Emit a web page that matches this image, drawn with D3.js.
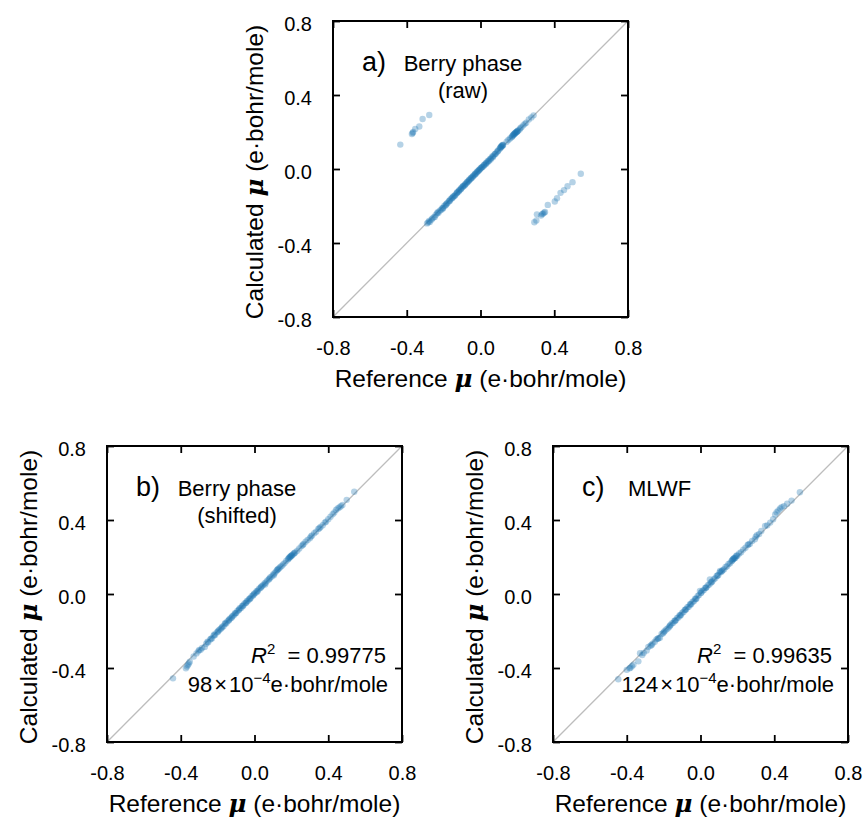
<!DOCTYPE html>
<html>
<head>
<meta charset="utf-8">
<script src="https://cdn.jsdelivr.net/npm/d3@7/dist/d3.min.js"></script>
<style>
  body { margin: 0; background: #fff; }
  svg { font-family: "Liberation Sans", Arial, sans-serif; }
  .pre { white-space: pre; }
</style>
</head>
<body>
<div id="chart"></div>
<script>
// axis range + ticks shared by the three panels
var axisDomain = [-0.8, 0.8];
var tickValues = [-0.8, -0.4, 0.0, 0.4, 0.8];

// a) Berry phase (raw) : main diagonal band
var rawDiag = [
[-0.290,-0.294],[-0.284,-0.289],[-0.279,-0.281],[-0.266,-0.274],[-0.262,-0.268],[-0.248,-0.259],[-0.243,-0.249],[-0.236,-0.240],[-0.228,-0.236],[-0.221,-0.226],
[-0.214,-0.221],[-0.208,-0.212],[-0.202,-0.209],[-0.196,-0.199],[-0.190,-0.197],[-0.184,-0.187],[-0.179,-0.184],[-0.172,-0.176],[-0.166,-0.171],[-0.161,-0.162],
[-0.155,-0.158],[-0.149,-0.150],[-0.144,-0.147],[-0.137,-0.140],[-0.131,-0.133],[-0.126,-0.126],[-0.120,-0.123],[-0.115,-0.114],[-0.109,-0.111],[-0.104,-0.103],
[-0.098,-0.099],[-0.093,-0.091],[-0.088,-0.090],[-0.082,-0.081],[-0.077,-0.078],[-0.071,-0.069],[-0.066,-0.067],[-0.061,-0.058],[-0.055,-0.056],[-0.050,-0.047],
[-0.045,-0.046],[-0.040,-0.037],[-0.034,-0.034],[-0.029,-0.026],[-0.024,-0.024],[-0.018,-0.015],[-0.013,-0.012],[-0.008,-0.005],[-0.003,-0.002],[0.002,0.005],
[0.007,0.009],[0.012,0.013],[0.018,0.021],[0.023,0.024],[0.029,0.032],[0.034,0.035],[0.040,0.043],[0.046,0.046],[0.052,0.055],[0.058,0.059],
[0.064,0.068],[0.070,0.071],[0.076,0.079],[0.083,0.084],[0.090,0.093],[0.097,0.101],[0.104,0.110],[0.109,0.118],[0.112,0.122],[0.116,0.126],
[0.119,0.129],[0.123,0.131],[0.142,0.147],[0.151,0.157],[0.160,0.165],[0.168,0.171],[0.174,0.180],[0.178,0.184],[0.182,0.188],[0.186,0.192],
[0.190,0.196],[0.194,0.199],[0.199,0.203],[0.204,0.208],[0.212,0.214],[0.222,0.226],[0.232,0.236],[0.248,0.250],[0.262,0.268],[0.288,0.290],
[-0.275,-0.286],[-0.255,-0.262],[-0.232,-0.234],[-0.205,-0.215],[-0.186,-0.192],[-0.168,-0.170],[-0.152,-0.155],[-0.140,-0.145],[-0.128,-0.130],[-0.117,-0.119],
[-0.106,-0.108],[-0.096,-0.094],[-0.085,-0.086],[-0.074,-0.073],[-0.063,-0.062],[-0.053,-0.051],[-0.042,-0.041],[-0.031,-0.030],[-0.021,-0.019],[-0.010,-0.008],
[0.000,0.003],[0.010,0.011],[0.020,0.019],[0.031,0.029],[0.043,0.040],[0.055,0.052],[0.067,0.064],[0.080,0.082],[0.094,0.096],[0.107,0.114],
[0.114,0.120],[0.121,0.127],[0.172,0.176],[0.180,0.187],[0.188,0.193],[0.196,0.202],[0.201,0.204],[0.216,0.221],[0.240,0.244],[0.276,0.279]
];
// a) the two off-diagonal groups (sign flipped molecules)
var rawUpperLeft = [
[-0.435,0.132],[-0.372,0.189],[-0.368,0.195],[-0.365,0.200],[-0.354,0.216],[-0.332,0.230],[-0.314,0.270],[-0.278,0.292]
];
var rawLowerRight = [
[0.544,-0.026],[0.499,-0.071],[0.472,-0.093],[0.453,-0.114],[0.434,-0.129],[0.415,-0.158],[0.403,-0.176],[0.365,-0.194],
[0.350,-0.232],[0.345,-0.236],[0.339,-0.241],[0.334,-0.244],[0.328,-0.252],[0.306,-0.245],[0.303,-0.278],[0.292,-0.288]
];

// b) Berry phase (shifted)
var shiftedPts = [
[-0.442,-0.456],[-0.372,-0.402],[-0.366,-0.392],[-0.361,-0.384],[-0.356,-0.376],[-0.351,-0.366],[-0.330,-0.338],[-0.315,-0.321],[-0.305,-0.310],[-0.292,-0.302],
[-0.284,-0.292],[-0.270,-0.286],[-0.262,-0.269],[-0.251,-0.261],[-0.240,-0.246],[-0.231,-0.240],[-0.222,-0.226],[-0.214,-0.222],[-0.205,-0.208],[-0.198,-0.204],
[-0.190,-0.193],[-0.183,-0.188],[-0.175,-0.177],[-0.168,-0.174],[-0.161,-0.162],[-0.154,-0.159],[-0.147,-0.148],[-0.140,-0.143],[-0.133,-0.133],[-0.126,-0.130],
[-0.119,-0.118],[-0.112,-0.115],[-0.106,-0.104],[-0.099,-0.102],[-0.093,-0.091],[-0.086,-0.088],[-0.080,-0.077],[-0.073,-0.075],[-0.067,-0.064],[-0.060,-0.061],
[-0.054,-0.051],[-0.047,-0.048],[-0.041,-0.038],[-0.034,-0.035],[-0.028,-0.025],[-0.021,-0.022],[-0.015,-0.012],[-0.008,-0.008],[-0.002,0.001],[0.005,0.006],
[0.011,0.015],[0.018,0.019],[0.025,0.028],[0.032,0.033],[0.039,0.042],[0.046,0.047],[0.054,0.057],[0.061,0.062],[0.069,0.072],[0.077,0.078],
[0.085,0.089],[0.093,0.095],[0.101,0.106],[0.109,0.112],[0.116,0.121],[0.122,0.128],[0.128,0.135],[0.134,0.139],[0.140,0.146],[0.147,0.151],
[0.155,0.160],[0.163,0.167],[0.172,0.178],[0.181,0.187],[0.188,0.196],[0.194,0.201],[0.200,0.207],[0.206,0.212],[0.213,0.218],[0.221,0.224],
[0.232,0.234],[0.243,0.246],[0.255,0.259],[0.266,0.270],[0.277,0.283],[0.288,0.292],[0.300,0.302],[0.312,0.316],[0.324,0.329],[0.334,0.337],
[0.346,0.352],[0.358,0.362],[0.370,0.372],[0.381,0.386],[0.388,0.391],[0.400,0.404],[0.412,0.418],[0.424,0.431],[0.433,0.441],[0.442,0.454],
[0.451,0.462],[0.460,0.468],[0.468,0.474],[0.477,0.481],[0.500,0.509],[0.541,0.553],
[-0.300,-0.302],[-0.255,-0.258],[-0.236,-0.241],[-0.218,-0.219],[-0.196,-0.198],[-0.178,-0.183],[-0.158,-0.156],[-0.138,-0.139],[-0.122,-0.124],[-0.103,-0.106],
[-0.083,-0.083],[-0.064,-0.066],[-0.044,-0.045],[-0.025,-0.027],[-0.005,-0.004],[0.015,0.012],[0.036,0.038],[0.058,0.052],[0.081,0.083],[0.105,0.101],
[0.125,0.131],[0.184,0.191],[0.191,0.198],[0.197,0.204],[0.203,0.209],[0.216,0.222],[0.262,0.265],[0.306,0.311],[0.352,0.356]
];

// c) MLWF
var mlwfPts = [
[-0.446,-0.461],[-0.385,-0.402],[-0.380,-0.398],[-0.372,-0.390],[-0.364,-0.382],[-0.337,-0.364],[-0.328,-0.320],[-0.308,-0.318],[-0.292,-0.306],[-0.283,-0.286],
[-0.271,-0.280],[-0.260,-0.268],[-0.248,-0.258],[-0.239,-0.245],[-0.228,-0.239],[-0.220,-0.236],[-0.211,-0.216],[-0.203,-0.212],[-0.194,-0.200],[-0.186,-0.192],
[-0.178,-0.186],[-0.170,-0.178],[-0.163,-0.168],[-0.156,-0.159],[-0.148,-0.156],[-0.141,-0.144],[-0.134,-0.141],[-0.127,-0.130],[-0.120,-0.127],[-0.113,-0.115],
[-0.106,-0.112],[-0.099,-0.101],[-0.092,-0.097],[-0.085,-0.086],[-0.078,-0.082],[-0.071,-0.072],[-0.064,-0.069],[-0.057,-0.055],[-0.050,-0.053],[-0.043,-0.042],
[-0.036,-0.039],[-0.029,-0.026],[-0.022,-0.024],[-0.015,-0.010],[-0.008,-0.006],[-0.003,0.016],[0.004,0.008],[0.011,0.018],[0.018,0.021],[0.025,0.033],
[0.032,0.036],[0.040,0.047],[0.048,0.051],[0.051,0.079],[0.056,0.062],[0.064,0.069],[0.072,0.080],[0.080,0.085],[0.088,0.097],[0.096,0.101],
[0.104,0.117],[0.106,0.124],[0.112,0.119],[0.120,0.128],[0.128,0.134],[0.136,0.146],[0.144,0.150],[0.152,0.162],[0.160,0.166],[0.168,0.177],
[0.174,0.186],[0.178,0.189],[0.184,0.193],[0.192,0.203],[0.200,0.207],[0.210,0.219],[0.220,0.226],[0.232,0.240],[0.244,0.250],[0.256,0.265],
[0.268,0.272],[0.280,0.287],[0.295,0.296],[0.306,0.318],[0.318,0.325],[0.330,0.341],[0.350,0.368],[0.362,0.371],[0.378,0.386],[0.394,0.404],
[0.405,0.430],[0.413,0.442],[0.422,0.451],[0.432,0.462],[0.440,0.469],[0.452,0.475],[0.470,0.488],[0.494,0.505],[0.539,0.550],
[-0.400,-0.410],[-0.316,-0.330],[-0.265,-0.276],[-0.232,-0.242],[-0.199,-0.206],[-0.166,-0.172],[-0.138,-0.146],[-0.110,-0.117],[-0.082,-0.085],[-0.054,-0.058],
[-0.026,-0.028],[0.002,0.006],[0.030,0.034],[0.060,0.064],[0.092,0.100],[0.116,0.124],[0.172,0.181],[0.180,0.192],[0.188,0.195],[0.196,0.208],
[0.260,0.268],[0.300,0.310]
];

var panelLetters = ["a)", "b)", "c)"];
var panelNames = [["Berry phase", "(raw)"], ["Berry phase", "(shifted)"], ["MLWF"]];
var r2Values = [null, "0.99775", "0.99635"];
var rmseValues = [null, "98", "124"];

var W = 865, H = 819,
    PW = 295, PH = 296,
    TICK = 7,
    DOT = "#1f77b4";

var svg = d3.select("#chart").append("svg").attr("width", W).attr("height", H);

var panels = [
  { left: 333, top: 21, points: rawDiag.concat(rawUpperLeft, rawLowerRight), nameX: 130, nameAnchor: "middle" },
  { left: 107, top: 446, points: shiftedPts, nameX: 130, nameAnchor: "middle" },
  { left: 553, top: 446, points: mlwfPts, nameX: 75, nameAnchor: "start" }
];

function fmt(d) { return d.toFixed(1); }

function muTitle(sel, before) {
  sel.append("tspan").attr("class", "pre").text(before);
  sel.append("tspan").attr("class", "pre")
    .style("font-family", "'DejaVu Serif', serif")
    .style("font-weight", "bold").style("font-style", "italic")
    .text("\u03bc");
  sel.append("tspan").attr("class", "pre").text(" (e\u00b7bohr/mole)");
}

panels.forEach(function(p, i) {
  var g = svg.append("g").attr("transform", "translate(" + p.left + "," + p.top + ")");

  var x = d3.scaleLinear().domain(axisDomain).range([0, PW]);
  var y = d3.scaleLinear().domain(axisDomain).range([PH, 0]);

  // y = x guide
  g.append("line")
    .attr("x1", x(axisDomain[0])).attr("y1", y(axisDomain[0]))
    .attr("x2", x(axisDomain[1])).attr("y2", y(axisDomain[1]))
    .style("stroke", "#bdbdbd").style("stroke-width", 1.3);

  g.selectAll("circle.pt")
    .data(p.points)
    .join("circle")
      .attr("class", "pt")
      .attr("cx", function(d) { return x(d[0]); })
      .attr("cy", function(d) { return y(d[1]); })
      .attr("r", 3.2)
      .style("fill", DOT)
      .style("fill-opacity", 0.33);

  var axB = g.append("g").attr("transform", "translate(0," + PH + ")")
    .call(d3.axisBottom(x).tickValues(tickValues).tickSize(-TICK).tickPadding(24).tickFormat(fmt));
  var axL = g.append("g")
    .call(d3.axisLeft(y).tickValues(tickValues).tickSize(-TICK).tickPadding(21).tickFormat(fmt));
  var axT = g.append("g")
    .call(d3.axisTop(x).tickValues(tickValues).tickSize(-TICK).tickFormat(""));
  var axR = g.append("g").attr("transform", "translate(" + PW + ",0)")
    .call(d3.axisRight(y).tickValues(tickValues).tickSize(-TICK).tickFormat(""));

  [axB, axL, axT, axR].forEach(function(a) {
    a.select(".domain").remove();
    a.selectAll(".tick line").style("stroke", "#000").style("stroke-width", 1.8);
    a.selectAll("text").style("font-size", "20px").style("fill", "#000")
      .style("font-family", "'Liberation Sans', Arial, sans-serif");
  });
  axL.selectAll("text").attr("dy", "0.45em");

  g.append("rect")
    .attr("width", PW).attr("height", PH)
    .style("fill", "none").style("stroke", "#000").style("stroke-width", 2);

  // axis titles
  g.append("text")
    .attr("x", PW / 2).attr("y", PH + 70)
    .attr("text-anchor", "middle")
    .style("font-size", "24.5px")
    .call(muTitle, "Reference ");

  g.append("text")
    .attr("transform", "translate(-70," + (PH / 2 + 3) + ") rotate(-90)")
    .attr("text-anchor", "middle")
    .style("font-size", "24.5px")
    .call(muTitle, "Calculated ");

  // panel letter + name
  g.append("text")
    .attr("x", 29).attr("y", 50)
    .style("font-size", "27px")
    .text(panelLetters[i]);

  panelNames[i].forEach(function(line, j) {
    g.append("text")
      .attr("x", p.nameX).attr("y", 50 + j * 27)
      .attr("text-anchor", p.nameAnchor)
      .style("font-size", "22px")
      .text(line);
  });

  // fit statistics
  if (r2Values[i]) {
    var t1 = g.append("text")
      .attr("x", PW - 16).attr("y", 217)
      .attr("text-anchor", "end")
      .style("font-size", "22px");
    t1.append("tspan").style("font-style", "italic").text("R");
    t1.append("tspan").attr("dy", -9).style("font-size", "15px").text("2");
    t1.append("tspan").attr("class", "pre").attr("dy", 9).text("  = " + r2Values[i]);

    var t2 = g.append("text")
      .attr("x", PW - 14).attr("y", 246)
      .attr("text-anchor", "end")
      .style("font-size", "22px");
    t2.append("tspan").text(rmseValues[i]);
    t2.append("tspan").attr("dx", 2).text("\u00d7");
    t2.append("tspan").attr("dx", 2).text("10");
    t2.append("tspan").attr("dy", -9).style("font-size", "15px").text("\u22124");
    t2.append("tspan").attr("dy", 9).text("e\u00b7bohr/mole");
  }
});
</script>
</body>
</html>
